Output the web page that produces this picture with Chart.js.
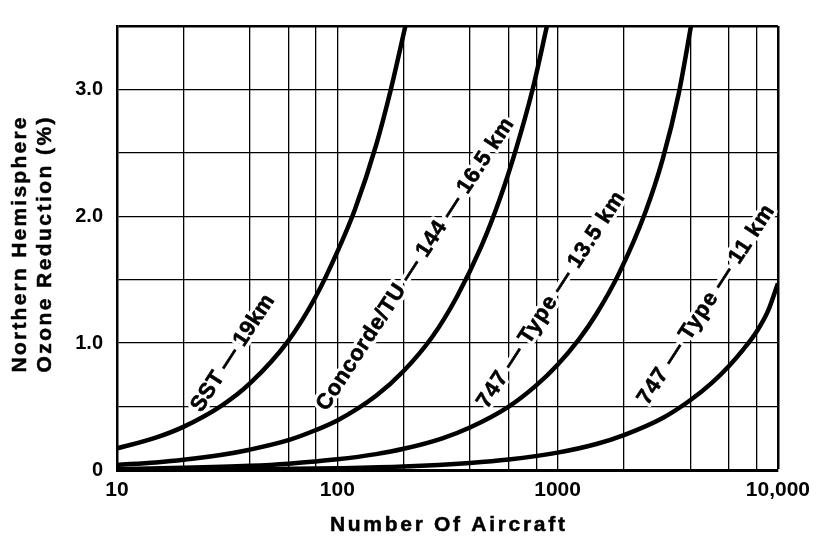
<!DOCTYPE html>
<html>
<head>
<meta charset="utf-8">
<script src="https://cdn.jsdelivr.net/npm/chart.js@4.4.1/dist/chart.umd.min.js"></script>
<style>
  html, body { margin: 0; padding: 0; background: #fff; }
</style>
</head>
<body>
<canvas id="chart" width="818" height="540"></canvas>
<script>
// Values: number of aircraft (x) and ozone reduction in % (y)
const sstAircraft = [10, 15, 20, 30, 40, 60, 80, 100, 120, 150, 175, 205];
const sstReduction = [0.17, 0.255, 0.34, 0.51, 0.68, 1.02, 1.37, 1.72, 2.05, 2.56, 3.0, 3.52];

const concordeAircraft = [10, 15, 20, 30, 40, 60, 80, 100, 150, 200, 270, 350, 450, 550, 650, 770, 900];
const concordeReduction = [0.04, 0.06, 0.08, 0.12, 0.16, 0.235, 0.315, 0.39, 0.585, 0.78, 1.05, 1.37, 1.76, 2.15, 2.54, 3.0, 3.52];

const b747HighAircraft = [10, 20, 40, 60, 100, 150, 200, 300, 400, 600, 800, 1000, 1250, 1500, 1900, 2500, 3000, 3550, 4080];
const b747HighReduction = [0.008, 0.017, 0.033, 0.05, 0.084, 0.125, 0.167, 0.25, 0.335, 0.5, 0.667, 0.83, 1.03, 1.23, 1.55, 2.03, 2.45, 2.97, 3.55];

const b747LowAircraft = [10, 20, 40, 100, 200, 400, 600, 1000, 1500, 2000, 3000, 4000, 5000, 6000, 7000, 8000, 9000, 10000];
const b747LowReduction = [0.0014, 0.003, 0.0055, 0.014, 0.027, 0.055, 0.082, 0.137, 0.205, 0.275, 0.41, 0.55, 0.685, 0.82, 0.955, 1.09, 1.25, 1.47];

const curveLabels = ['SST \u2014 19km', 'Concorde/TU \u2014 144 \u2014 16.5 km', '747 \u2014 Type \u2014 13.5 km', '747 \u2014 Type \u2014 11 km'];

// Grid values and tick labels
const xGridValues = [10, 20, 40, 60, 80, 100, 200, 400, 600, 800, 1000, 2000, 4000, 6000, 8000, 10000];
const xTickLabels = { 10: '10', 100: '100', 1000: '1000', 10000: '10,000' };
const yGridValues = [0, 0.5, 1, 1.5, 2, 2.5, 3, 3.5];
const yTickLabels = { 0: '0', 1: '1.0', 2: '2.0', 3: '3.0' };

const xTitle = 'Number Of Aircraft';
const yTitle = ['Northern Hemisphere', 'Ozone Reduction (%)'];

// Where the curve labels sit (data coords of the text centre) and how long they run
const labelPlacement = [
    { x: 33.6, y: 0.92, length: 135 },
    { x: 226, y: 1.62, length: 344 },
    { x: 935, y: 1.34, length: 253 },
    { x: 4720, y: 1.30, length: 233 }
];
const LABEL_ANGLE = -57 * Math.PI / 180;
const FONT_FAMILY = '"Liberation Sans", Arial, Helvetica, sans-serif';

function toPoints(xs, ys) {
    return xs.map(function (x, i) { return { x: x, y: ys[i] }; });
}

function curve(xs, ys) {
    return {
        data: toPoints(xs, ys),
        borderColor: '#000',
        borderWidth: 4.5,
        pointRadius: 0,
        cubicInterpolationMode: 'monotone',
        fill: false
    };
}

// Draws text so it spans a given width, by adjusting letter spacing
function drawSpacedText(ctx, text, x, y, targetWidth, mode) {
    ctx.letterSpacing = '0px';
    const natural = ctx.measureText(text).width;
    let spacing = 0;
    if (targetWidth) {
        spacing = (targetWidth - natural) / Math.max(1, text.length - 1);
    }
    ctx.letterSpacing = spacing + 'px';
    const width = natural + spacing * (text.length - 1);
    const startX = x - width / 2;
    ctx.textAlign = 'left';
    if (mode === 'halo') {
        ctx.strokeText(text, startX, y);
    } else {
        ctx.fillText(text, startX, y);
    }
    ctx.letterSpacing = '0px';
}

const curveLabelPlugin = {
    id: 'curveLabels',
    beforeDatasetsDraw: function (chart) {
        const ctx = chart.ctx;
        const xs = chart.scales.x;
        const ys = chart.scales.y;
        ctx.save();
        ctx.font = 'bold 22px ' + FONT_FAMILY;
        ctx.textBaseline = 'middle';
        curveLabels.forEach(function (text, i) {
            const p = labelPlacement[i];
            ctx.save();
            ctx.translate(xs.getPixelForValue(p.x), ys.getPixelForValue(p.y));
            ctx.rotate(LABEL_ANGLE);
            ctx.strokeStyle = '#fff';
            ctx.lineWidth = 7;
            ctx.lineJoin = 'round';
            drawSpacedText(ctx, text, 0, 0, p.length, 'halo');
            ctx.fillStyle = '#000';
            ctx.strokeStyle = '#000';
            ctx.lineWidth = 0.6;
            drawSpacedText(ctx, text, 0, 0, p.length, 'fill');
            drawSpacedText(ctx, text, 0, 0, p.length, 'halo');
            ctx.restore();
        });
        ctx.restore();
    }
};

const axisTitlePlugin = {
    id: 'axisTitles',
    afterDraw: function (chart) {
        const ctx = chart.ctx;
        const area = chart.chartArea;
        ctx.save();
        ctx.fillStyle = '#000';
        ctx.strokeStyle = '#000';
        ctx.lineWidth = 0.5;
        ctx.textBaseline = 'middle';
        ctx.font = 'bold 21px ' + FONT_FAMILY;
        drawSpacedText(ctx, xTitle, (area.left + area.right) / 2, 525, 235, 'fill');
        drawSpacedText(ctx, xTitle, (area.left + area.right) / 2, 525, 235, 'halo');

        ctx.translate(0, 245);
        ctx.rotate(-Math.PI / 2);
        yTitle.forEach(function (line, i) {
            drawSpacedText(ctx, line, 0, 20 + i * 25, 255, 'fill');
            drawSpacedText(ctx, line, 0, 20 + i * 25, 255, 'halo');
        });
        ctx.restore();
    }
};

const config = {
    type: 'line',
    data: {
        datasets: [
            curve(sstAircraft, sstReduction),
            curve(concordeAircraft, concordeReduction),
            curve(b747HighAircraft, b747HighReduction),
            curve(b747LowAircraft, b747LowReduction)
        ]
    },
    options: {
        responsive: false,
        animation: false,
        layout: { padding: { left: 0, right: 39, top: 15, bottom: 0 } },
        plugins: {
            legend: { display: false },
            tooltip: { enabled: false }
        },
        scales: {
            x: {
                type: 'logarithmic',
                min: 10,
                max: 10000,
                afterBuildTicks: function (scale) {
                    scale.ticks = xGridValues.map(function (v) { return { value: v }; });
                },
                afterFit: function (scale) { scale.height = 70; },
                ticks: {
                    autoSkip: false,
                    maxRotation: 0,
                    padding: 8,
                    color: '#000',
                    font: { family: FONT_FAMILY, size: 21, weight: 'bold' },
                    callback: function (value) { return xTickLabels[value] || ''; }
                },
                grid: {
                    color: '#000',
                    lineWidth: function (c) { return c.index === xGridValues.length - 1 ? 2.5 : 1.3; },
                    drawTicks: false
                },
                border: { display: true, color: '#000', width: 3 }
            },
            y: {
                type: 'linear',
                min: 0,
                max: 3.5,
                afterBuildTicks: function (scale) {
                    scale.ticks = yGridValues.map(function (v) { return { value: v }; });
                },
                afterFit: function (scale) { scale.width = 117; },
                ticks: {
                    autoSkip: false,
                    padding: 14,
                    color: '#000',
                    font: { family: FONT_FAMILY, size: 20, weight: 'bold' },
                    callback: function (value) {
                        return yTickLabels[value] !== undefined ? yTickLabels[value] : '';
                    }
                },
                grid: {
                    color: '#000',
                    lineWidth: function (c) { return c.index === yGridValues.length - 1 ? 2.5 : 1.3; },
                    drawTicks: false
                },
                border: { display: true, color: '#000', width: 2.5 }
            }
        }
    },
    plugins: [curveLabelPlugin, axisTitlePlugin]
};

new Chart(document.getElementById('chart').getContext('2d'), config);
</script>
</body>
</html>
